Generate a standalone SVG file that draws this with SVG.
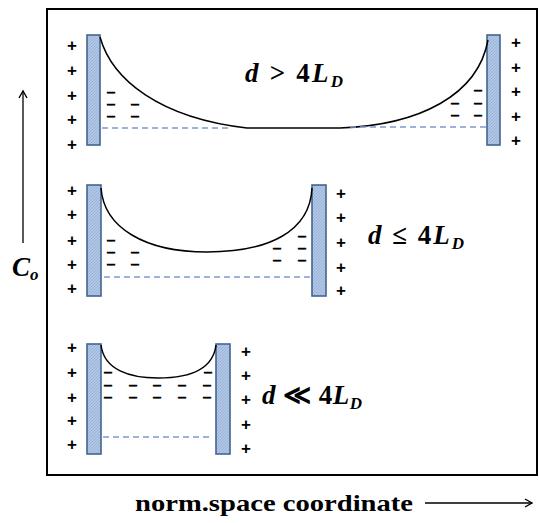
<svg xmlns="http://www.w3.org/2000/svg" width="539" height="523" viewBox="0 0 539 523">
<defs>
<pattern id="hatch" width="3" height="3" patternUnits="userSpaceOnUse">
<rect width="3" height="3" fill="#b0c6e6"/>
<path d="M0,3 L3,0" stroke="#98afd2" stroke-width="0.8"/>
</pattern>
<marker id="arr" markerWidth="10" markerHeight="10" refX="8" refY="5" orient="auto" markerUnits="userSpaceOnUse">
<path d="M1,1 L8,5 L1,9" fill="none" stroke="#000" stroke-width="1.4"/>
</marker>
</defs>
<style>
.plate{fill:url(#hatch);stroke:#41658f;stroke-width:1.6}
.pl{font-family:"Liberation Sans",Arial,sans-serif;font-weight:bold;font-size:17px;text-anchor:middle;fill:#000}
.mn{font-family:"DejaVu Sans",sans-serif;font-weight:bold;font-size:10px;text-anchor:middle;fill:#000;stroke:#000;stroke-width:0.7}
.curve{fill:none;stroke:#000;stroke-width:1.5}
.dash{fill:none;stroke:#7f9bd0;stroke-width:1.4;stroke-dasharray:6,4}
.math{font-family:"Liberation Serif","Times New Roman",serif;font-weight:bold;font-size:27px;fill:#000}
.it{font-style:italic}
.sub{font-size:17px;font-style:italic}
</style>
<rect x="47" y="9" width="490" height="466" fill="#fff" stroke="#000" stroke-width="2"/>

<g id="panel1">
<rect class="plate" x="87" y="35" width="13" height="110"/>
<rect class="plate" x="487" y="35" width="13" height="110"/>
<g class="pl"><text x="72" y="51">+</text><text x="72" y="76">+</text><text x="72" y="101">+</text><text x="72" y="125">+</text><text x="72" y="150">+</text>
<text x="516" y="48">+</text><text x="516" y="73">+</text><text x="516" y="97">+</text><text x="516" y="122">+</text><text x="516" y="146">+</text></g>
<g class="mn"><text x="111" y="96" textLength="10" lengthAdjust="spacingAndGlyphs">−</text><text x="111" y="108" textLength="10" lengthAdjust="spacingAndGlyphs">−</text><text x="135" y="108" textLength="10" lengthAdjust="spacingAndGlyphs">−</text><text x="111" y="120" textLength="10" lengthAdjust="spacingAndGlyphs">−</text><text x="135" y="120" textLength="10" lengthAdjust="spacingAndGlyphs">−</text>
<text x="478" y="94" textLength="10" lengthAdjust="spacingAndGlyphs">−</text><text x="455" y="107" textLength="10" lengthAdjust="spacingAndGlyphs">−</text><text x="478" y="107" textLength="10" lengthAdjust="spacingAndGlyphs">−</text><text x="455" y="119" textLength="10" lengthAdjust="spacingAndGlyphs">−</text><text x="478" y="119" textLength="10" lengthAdjust="spacingAndGlyphs">−</text></g>
<text class="math" x="245" y="82" textLength="98" lengthAdjust="spacing"><tspan class="it">d</tspan> &gt; 4<tspan class="it">L</tspan><tspan class="sub" dy="5">D</tspan></text>
</g>

<g id="panel2">
<rect class="plate" x="87" y="185" width="14" height="111"/>
<rect class="plate" x="312" y="185" width="14" height="111"/>
<g class="pl"><text x="72" y="196">+</text><text x="72" y="220">+</text><text x="72" y="246">+</text><text x="72" y="270">+</text><text x="72" y="294">+</text>
<text x="341" y="199">+</text><text x="341" y="223">+</text><text x="341" y="248">+</text><text x="341" y="273">+</text><text x="341" y="296">+</text></g>
<g class="mn"><text x="111" y="244" textLength="10" lengthAdjust="spacingAndGlyphs">−</text><text x="111" y="256" textLength="10" lengthAdjust="spacingAndGlyphs">−</text><text x="135" y="256" textLength="10" lengthAdjust="spacingAndGlyphs">−</text><text x="111" y="268" textLength="10" lengthAdjust="spacingAndGlyphs">−</text><text x="135" y="268" textLength="10" lengthAdjust="spacingAndGlyphs">−</text>
<text x="302" y="240" textLength="10" lengthAdjust="spacingAndGlyphs">−</text><text x="277" y="252" textLength="10" lengthAdjust="spacingAndGlyphs">−</text><text x="302" y="252" textLength="10" lengthAdjust="spacingAndGlyphs">−</text><text x="277" y="264" textLength="10" lengthAdjust="spacingAndGlyphs">−</text><text x="302" y="264" textLength="10" lengthAdjust="spacingAndGlyphs">−</text></g>
<text class="math" x="368" y="244" textLength="96" lengthAdjust="spacing"><tspan class="it">d</tspan> ≤ 4<tspan class="it">L</tspan><tspan class="sub" dy="5">D</tspan></text>
</g>

<g id="panel3">
<rect class="plate" x="87" y="344" width="14" height="110"/>
<rect class="plate" x="216" y="344" width="14" height="110"/>
<g class="pl"><text x="72" y="353">+</text><text x="72" y="378">+</text><text x="72" y="403">+</text><text x="72" y="426">+</text><text x="72" y="450">+</text>
<text x="246" y="357">+</text><text x="246" y="381">+</text><text x="246" y="405">+</text><text x="246" y="430">+</text><text x="246" y="454">+</text></g>
<g class="mn"><text x="108" y="376" textLength="10" lengthAdjust="spacingAndGlyphs">−</text><text x="208" y="376" textLength="10" lengthAdjust="spacingAndGlyphs">−</text>
<text x="108" y="389" textLength="10" lengthAdjust="spacingAndGlyphs">−</text><text x="133" y="389" textLength="10" lengthAdjust="spacingAndGlyphs">−</text><text x="157" y="389" textLength="10" lengthAdjust="spacingAndGlyphs">−</text><text x="182" y="389" textLength="10" lengthAdjust="spacingAndGlyphs">−</text><text x="207" y="389" textLength="10" lengthAdjust="spacingAndGlyphs">−</text>
<text x="108" y="401" textLength="10" lengthAdjust="spacingAndGlyphs">−</text><text x="133" y="401" textLength="10" lengthAdjust="spacingAndGlyphs">−</text><text x="157" y="401" textLength="10" lengthAdjust="spacingAndGlyphs">−</text><text x="182" y="401" textLength="10" lengthAdjust="spacingAndGlyphs">−</text><text x="207" y="401" textLength="10" lengthAdjust="spacingAndGlyphs">−</text></g>
<text class="math" x="262" y="404" textLength="100" lengthAdjust="spacing"><tspan class="it">d</tspan> ≪ 4<tspan class="it">L</tspan><tspan class="sub" dy="5">D</tspan></text>
</g>

<g id="connectors">
<path class="curve" d="M100,37 C112,80 160,118 247,128 L340,128 C420,125 478,95 488,40"/>
<path class="dash" d="M102,128 L232,128 M350,127 L487,127"/>
<path class="curve" d="M101,188 C104,228 145,252 207,252 C268,252 310,232 312,188"/>
<path class="dash" d="M104,277 L312,277"/>
<path class="curve" d="M101,345 C104,370 130,378 158,378 C188,378 213,370 216,345"/>
<path class="dash" d="M103,437 L210,437"/>
<line x1="23" y1="243" x2="23" y2="91" stroke="#000" stroke-width="1.3" marker-end="url(#arr)"/>
<line x1="425" y1="503" x2="532" y2="503" stroke="#000" stroke-width="1.3" marker-end="url(#arr)"/>
</g>

<text class="math" x="12" y="276" font-size="27"><tspan class="it">C</tspan><tspan class="sub" dy="4">o</tspan></text>
<text x="135" y="511" font-family="'Liberation Serif','Times New Roman',serif" font-weight="bold" font-size="23" textLength="278" lengthAdjust="spacingAndGlyphs">norm.space coordinate</text>
</svg>
